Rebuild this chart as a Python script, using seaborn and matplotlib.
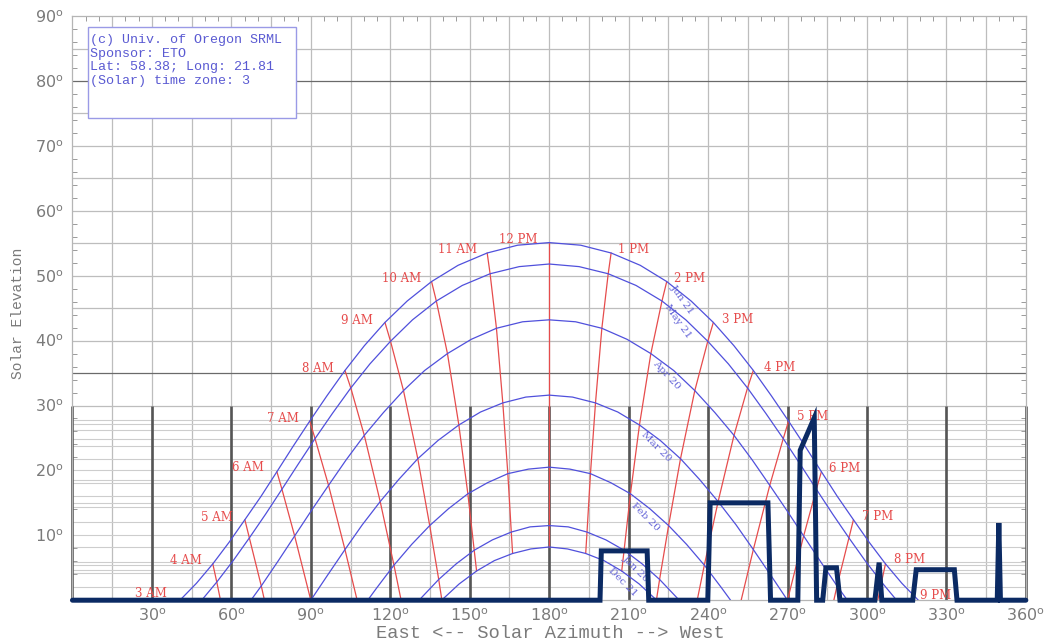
import matplotlib
matplotlib.use("Agg")
import matplotlib.pyplot as plt
from matplotlib.patches import Rectangle
from matplotlib.ticker import MultipleLocator
import seaborn as sns
import pandas as pd

# sun paths, (azimuth, elevation) in degrees
jun21 = [(40.6, 0), (46.8, 2.6), (53.0, 5.6), (59.1, 8.9), (65.1, 12.4), (71.2, 16.0), (77.2, 19.8),
         (83.3, 23.7), (89.6, 27.6), (96.1, 31.5), (102.9, 35.4), (110.2, 39.2), (118.0, 42.8),
         (126.4, 46.1), (135.6, 49.1), (145.6, 51.6), (156.6, 53.5), (168.1, 54.7), (180, 55.1),
         (191.9, 54.7), (203.4, 53.5), (214.4, 51.6), (224.4, 49.1), (233.6, 46.1), (242.0, 42.8),
         (249.8, 39.2), (257.1, 35.4), (263.9, 31.5), (270.4, 27.6), (276.7, 23.7), (282.8, 19.8),
         (288.8, 16.0), (294.9, 12.4), (300.9, 8.9), (307.0, 5.6), (313.2, 2.6), (319.4, 0)]
may21 = [(48.8, 0), (54.5, 2.8), (60.7, 6.1), (66.8, 9.6), (73.0, 13.3), (79.1, 17.1), (85.3, 21.0),
         (91.6, 24.9), (98.2, 28.8), (105.1, 32.7), (112.3, 36.4), (120.1, 39.9), (128.4, 43.2),
         (137.4, 46.1), (147.2, 48.5), (157.7, 50.3), (168.7, 51.4), (180, 51.8), (191.3, 51.4),
         (202.3, 50.3), (212.8, 48.5), (222.6, 46.1), (231.6, 43.2), (239.9, 39.9), (247.7, 36.4),
         (254.9, 32.7), (261.8, 28.8), (268.4, 24.9), (274.7, 21.0), (280.9, 17.1), (287.0, 13.3),
         (293.2, 9.6), (299.3, 6.1), (305.5, 2.8), (311.2, 0)]
apr20 = [(67.4, 0), (71.3, 2.2), (77.6, 6.0), (83.9, 9.9), (90.2, 13.8), (96.7, 17.7), (103.3, 21.6),
         (110.2, 25.4), (117.4, 28.9), (125.0, 32.3), (133.0, 35.4), (141.6, 38.0), (150.6, 40.2),
         (160.1, 41.9), (170.0, 42.9), (180, 43.2), (190.0, 42.9), (199.9, 41.9), (209.4, 40.2),
         (218.4, 38.0), (227.0, 35.4), (235.0, 32.3), (242.6, 28.9), (249.8, 25.4), (256.7, 21.6),
         (263.3, 17.7), (269.8, 13.8), (276.1, 9.9), (282.4, 6.0), (288.7, 2.2), (292.6, 0)]
mar20 = [(90, 0), (96.4, 3.9), (102.9, 7.8), (109.4, 11.6), (116.2, 15.2), (123.2, 18.6), (130.4, 21.8),
         (138.0, 24.6), (145.9, 27.0), (154.1, 29.0), (162.5, 30.4), (171.2, 31.3), (180, 31.6),
         (188.8, 31.3), (197.5, 30.4), (205.9, 29.0), (214.1, 27.0), (222.0, 24.6), (229.6, 21.8),
         (236.8, 18.6), (243.8, 15.2), (250.6, 11.6), (257.1, 7.8), (263.6, 3.9), (270, 0)]
feb20 = [(111.5, 0), (114.9, 1.9), (121.4, 5.4), (128.1, 8.6), (134.9, 11.5), (142.0, 14.1),
         (149.3, 16.4), (156.7, 18.1), (164.4, 19.5), (172.2, 20.2), (180, 20.5), (187.8, 20.2),
         (195.6, 19.5), (203.3, 18.1), (210.7, 16.4), (218.0, 14.1), (225.1, 11.5), (231.9, 8.6),
         (238.6, 5.4), (245.1, 1.9), (248.5, 0)]
jan20 = [(131.0, 0), (131.8, 0.4), (138.3, 3.2), (144.9, 5.6), (151.7, 7.7), (158.6, 9.3), (165.7, 10.5),
         (172.8, 11.3), (180, 11.5), (187.2, 11.3), (194.3, 10.5), (201.4, 9.3), (208.3, 7.7),
         (215.1, 5.6), (221.7, 3.2), (228.2, 0.4), (229.0, 0)]
dec21 = [(139.4, 0), (146.0, 2.5), (152.6, 4.5), (159.3, 6.1), (166.2, 7.2), (173.1, 7.9), (180, 8.2),
         (186.9, 7.9), (193.8, 7.2), (200.7, 6.1), (207.4, 4.5), (214.0, 2.5), (220.6, 0)]
date_names = ["Jun 21", "May 21", "Apr 20", "Mar 20", "Feb 20", "Jan 20", "Dec 21"]
sun_paths = [jun21, may21, apr20, mar20, feb20, jan20, dec21]

# hour lines (same solar time on each date)
am4 = [(53.0, 5.6), (54.5, 2.8), (55.9, 0)]
am5 = [(65.1, 12.4), (66.8, 9.6), (71.3, 2.2), (72.5, 0)]
am6 = [(77.2, 19.8), (79.1, 17.1), (83.9, 9.9), (90, 0)]
am7 = [(89.6, 27.6), (91.6, 24.9), (96.7, 17.7), (102.9, 7.8), (107.5, 0)]
am8 = [(102.9, 35.4), (105.1, 32.7), (110.2, 25.4), (116.2, 15.2), (121.4, 5.4), (124.1, 0)]
am9 = [(118.0, 42.8), (120.1, 39.9), (125.0, 32.3), (130.4, 21.8), (134.9, 11.5), (138.3, 3.2), (139.5, 0)]
am10 = [(135.6, 49.1), (137.4, 46.1), (141.6, 38.0), (145.9, 27.0), (149.3, 16.4), (151.7, 7.7), (152.6, 4.5)]
am11 = [(156.6, 53.5), (157.7, 50.3), (160.1, 41.9), (162.5, 30.4), (164.4, 19.5), (165.7, 10.5), (166.2, 7.2)]
pm12 = [(180, 55.1), (180, 8.2)]
pm1 = [(203.4, 53.5), (202.3, 50.3), (199.9, 41.9), (197.5, 30.4), (195.6, 19.5), (194.3, 10.5), (193.8, 7.2)]
pm2 = [(224.4, 49.1), (222.6, 46.1), (218.4, 38.0), (214.1, 27.0), (210.7, 16.4), (208.3, 7.7), (207.4, 4.5)]
pm3 = [(242.0, 42.8), (239.9, 39.9), (235.0, 32.3), (229.6, 21.8), (225.1, 11.5), (221.7, 3.2), (220.5, 0)]
pm4 = [(257.1, 35.4), (254.9, 32.7), (249.8, 25.4), (243.8, 15.2), (238.6, 5.4), (235.9, 0)]
pm5 = [(270.4, 27.6), (268.4, 24.9), (263.3, 17.7), (257.1, 7.8), (252.5, 0)]
pm6 = [(282.8, 19.8), (280.9, 17.1), (276.1, 9.9), (270, 0)]
pm7 = [(294.9, 12.4), (293.2, 9.6), (288.7, 2.2), (287.5, 0)]
pm8 = [(307.0, 5.6), (305.5, 2.8), (304.1, 0)]
hour_lines = [am4, am5, am6, am7, am8, am9, am10, am11, pm12, pm1, pm2, pm3, pm4, pm5, pm6, pm7, pm8]

hour_text = ["3 AM", "4 AM", "5 AM", "6 AM", "7 AM", "8 AM", "9 AM", "10 AM", "11 AM", "12 PM",
             "1 PM", "2 PM", "3 PM", "4 PM", "5 PM", "6 PM", "7 PM", "8 PM", "9 PM"]
hour_text_az = [29.5, 43.0, 54.5, 66.3, 79.5, 92.8, 107.3, 124.2, 145.6, 168.2,
                211.9, 233.0, 251.3, 267.0, 279.5, 291.6, 304.1, 316.1, 326.0]
hour_text_el = [1.0, 6.1, 12.7, 20.4, 28.0, 35.7, 43.1, 49.6, 54.1, 55.6,
                54.1, 49.5, 43.2, 35.9, 28.3, 20.3, 12.9, 6.2, 0.8]

date_text_az = [230.4, 228.6, 224.4, 220.3, 216.2, 212.6, 207.6]
date_text_el = [46.4, 42.9, 34.7, 23.7, 12.9, 4.9, 2.8]
date_text_rot = [-55, -55, -47, -45, -45, -45, -45]

# far horizon / obstruction profile
horizon_az = [0, 199.2, 199.7, 217.0, 217.6, 239.9, 240.8, 262.6, 263.6, 273.9, 274.8, 280.1, 281.0,
              283.3, 284.5, 288.5, 289.8, 303.0, 304.6, 305.6, 317.3, 318.6, 333.0, 334.0,
              349.2, 349.8, 350.4, 360]
horizon_el = [0, 0, 7.6, 7.6, 0, 0, 15.0, 15.0, 0, 0, 23.1, 28.1, 0,
              0, 5.0, 5.0, 0, 0, 5.8, 0, 0, 4.7, 4.7, 0,
              0, 11.9, 0, 0]

# extra horizontal grid lines of the horizon sketch (0-30 deg band)
low_grid = [2.0, 4.2, 4.7, 5.4, 5.9, 8.2, 10.0, 12.1, 14.4, 15.0, 16.0, 18.0, 18.5, 20.0,
            21.8, 23.8, 24.8, 26.2, 27.2, 27.8]

info_lines = ["(c) Univ. of Oregon SRML", "Sponsor: ETO", "Lat: 58.38; Long: 21.81",
              "(Solar) time zone: 3"]

sns.set_style("white")
plt.rcParams["font.family"] = ["DejaVu Serif"]
mono = ["Liberation Mono", "DejaVu Sans Mono"]

blue = "#5050dc"
red = "#e64c4c"
navy = "#0b2a63"
light = "#bdbdbd"

fig = plt.figure(figsize=(10.5, 6.44), dpi=100)
ax = fig.add_axes([0.069, 0.068, 0.908, 0.907])

# grid
for a in range(15, 360, 15):
    ax.axvline(a, color=light, lw=0.9, zorder=1)
for e in range(30, 90, 5):
    ax.axhline(e, color="#6a6a6a" if e in (35, 80) else light, lw=0.9, zorder=1)
for e in low_grid:
    ax.axhline(e, color="#cdcdcd", lw=0.8, zorder=1)
ax.vlines(range(0, 361, 30), 0, 30, color="#555555", lw=1.9, zorder=2, clip_on=False)

rows = []
for name, pts in zip(date_names, sun_paths):
    for az, el in pts:
        rows.append((name, az, el))
paths_df = pd.DataFrame(rows, columns=["date", "az", "el"])

rows = []
for i, pts in enumerate(hour_lines):
    for az, el in pts:
        rows.append((i, az, el))
hours_df = pd.DataFrame(rows, columns=["hour", "az", "el"])

sns.lineplot(data=hours_df, x="az", y="el", units="hour", estimator=None, sort=False,
             color=red, lw=0.9, ax=ax, zorder=3)
sns.lineplot(data=paths_df, x="az", y="el", units="date", estimator=None, sort=False,
             color=blue, lw=0.9, ax=ax, zorder=4)

hz = pd.DataFrame({"az": horizon_az, "el": horizon_el})
sns.lineplot(data=hz, x="az", y="el", estimator=None, sort=False, color=navy, lw=3.6,
             ax=ax, zorder=6, clip_on=False, solid_joinstyle="miter")

for t, x, y in zip(hour_text, hour_text_az, hour_text_el):
    ax.text(x, y, t, color=red, fontsize=8.5, ha="center", va="center", zorder=5)
for t, x, y, r in zip(date_names, date_text_az, date_text_el, date_text_rot):
    ax.text(x, y, t, color="#6565d8", fontsize=7.5, ha="center", va="center",
            rotation=r, rotation_mode="anchor", zorder=5)

# info box
ax.add_patch(Rectangle((5.85, 74.3), 78.5, 14.0, fill=True, facecolor="white",
                       edgecolor="#9a9ae6", lw=1.0, zorder=7))
for i, line in enumerate(info_lines):
    ax.text(6.8, 86.3 - 2.08 * i, line, color="#5a5ad2", fontsize=9.6, ha="left",
            va="center", zorder=8, family=mono)

ax.set_xlim(0, 360)
ax.set_ylim(0, 90)
ax.set_xticks(range(30, 361, 30))
ax.set_xticklabels([str(v) + r"$^{\mathrm{o}}$" for v in range(30, 361, 30)])
ax.set_yticks(range(10, 91, 10))
ax.set_yticklabels([str(v) + r"$^{\mathrm{o}}$" for v in range(10, 91, 10)])
ax.xaxis.set_minor_locator(MultipleLocator(5))
ax.yaxis.set_minor_locator(MultipleLocator(2))
ax.tick_params(axis="both", which="major", length=0, labelsize=11.5, labelcolor="#7a7a7a")
ax.tick_params(axis="x", which="major", pad=5)
ax.tick_params(axis="y", which="major", pad=6)
ax.tick_params(which="minor", direction="in", length=3.5, width=0.7, color="#9a9a9a",
               top=True, right=True, bottom=False, left=True)
for lab in ax.get_xticklabels() + ax.get_yticklabels():
    lab.set_fontfamily("DejaVu Sans")
ax.set_xlabel("")
ax.set_ylabel("")
for s in ax.spines.values():
    s.set_color("#b5b5b5")
    s.set_linewidth(0.9)

fig.text(18 / 1050, 1 - 313 / 644, "Solar Elevation", rotation=90, ha="center", va="center",
         fontsize=10.5, color="#7a7a7a", family=mono)
fig.text(550 / 1050, 1 - 633 / 644, "East <-- Solar Azimuth --> West", ha="center",
         va="center", fontsize=13.5, color="#7a7a7a", family=mono)

fig.savefig("out.png", dpi=100, facecolor="white")
